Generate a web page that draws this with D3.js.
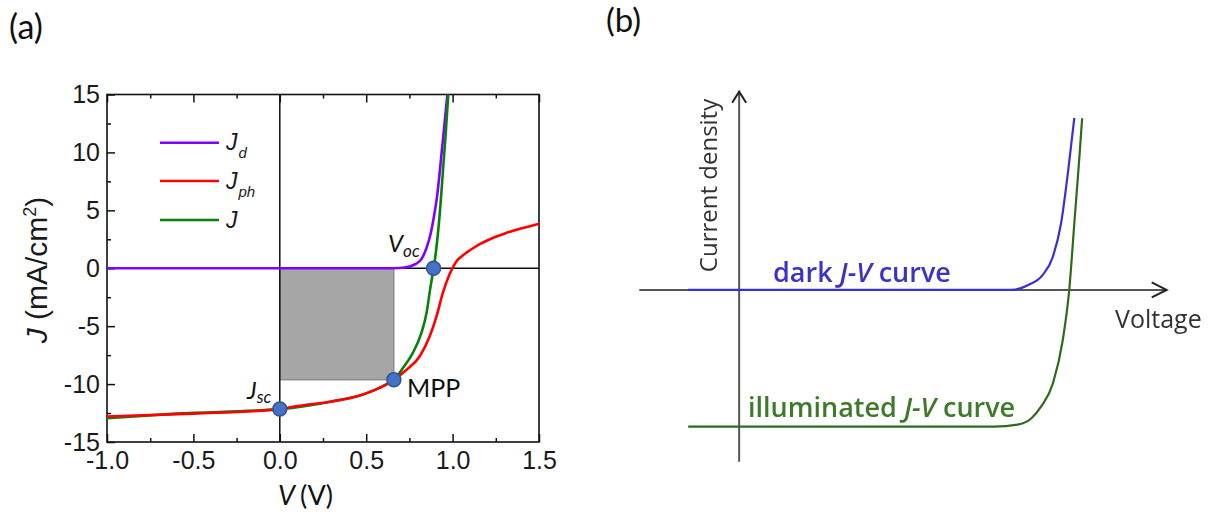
<!DOCTYPE html>
<html>
<head>
<meta charset="utf-8">
<script src="https://cdn.jsdelivr.net/npm/d3@7"></script>
<style>
  body { margin: 0; background: #fff; }
  svg { display: block; }
</style>
</head>
<body>
<svg id="fig" width="1210" height="518"></svg>
<script>
// ---------- Panel (a): measured J–V characteristics ----------
// Dark current J_d
const darkV = [-1.0, 0.60, 0.69, 0.75, 0.79, 0.82, 0.85, 0.87, 0.89, 0.91, 0.94, 0.97];
const darkJ = [0, 0, 0.02, 0.15, 0.40, 0.80, 1.80, 2.80, 4.30, 6.20, 10.5, 15.0];
// Photocurrent J_ph
const photoV = [-1.0, -0.5, 0.0, 0.1, 0.3, 0.45, 0.55, 0.60, 0.66, 0.73, 0.81, 0.867, 0.906, 0.944, 0.983, 1.02, 1.05, 1.08, 1.12, 1.16, 1.20, 1.25, 1.31, 1.40, 1.50];
const photoJ = [-12.8, -12.55, -12.16, -11.9, -11.5, -11.05, -10.5, -10.15, -9.63, -8.8, -7.6, -5.9, -4.2, -2.1, -0.5, 0.55, 1.0, 1.35, 1.75, 2.1, 2.4, 2.72, 3.05, 3.45, 3.85];
// Total current J
const totalV = [-1.0, -0.6, 0.0, 0.3, 0.5, 0.60, 0.66, 0.713, 0.77, 0.819, 0.85, 0.87, 0.89, 0.90, 0.915, 0.93, 0.945, 0.96, 0.975];
const totalJ = [-12.95, -12.55, -12.16, -11.5, -10.8, -10.15, -9.63, -8.6, -7.3, -5.6, -3.8, -1.8, 0, 1.0, 3.0, 5.5, 8.6, 11.6, 15.0];

// Characteristic points
const pointNames = ["Jsc", "MPP", "Voc"];
const pointV = [0.0, 0.66, 0.89];
const pointJ = [-12.16, -9.63, 0];

// Axis ticks
const xMajor = [-1.0, -0.5, 0.0, 0.5, 1.0, 1.5];
const xMinor = [-0.75, -0.25, 0.25, 0.75, 1.25];
const yMajor = [-15, -10, -5, 0, 5, 10, 15];
const yMinor = [-12.5, -7.5, -2.5, 2.5, 7.5, 12.5];
const xTickLabels = ["-1.0", "-0.5", "0.0", "0.5", "1.0", "1.5"];
const yTickLabels = ["-15", "-10", "-5", "0", "5", "10", "15"];

// Legend entries
const legendMain = ["J", "J", "J"];
const legendSub = ["d", "ph", ""];
const legendColors = ["#8000ff", "#ff0000", "#0a800a"];

// ---------- Panel (b): schematic curves ----------
const schemDarkV = [-0.15, 0.80, 0.85, 0.894, 0.924, 0.948, 0.968, 0.987];
const schemDarkJ = [0, 0, 0.035, 0.11, 0.244, 0.488, 0.854, 1.258];
const schemLightV = [-0.15, 0.75, 0.82, 0.86, 0.89, 0.924, 0.953, 0.972, 0.987, 1.002, 1.010];
const schemLightJ = [-1, -1, -0.985, -0.94, -0.85, -0.683, -0.366, 0, 0.488, 0.975, 1.256];

const svg = d3.select("#fig");

// ================= Panel (a) =================
const x = d3.scaleLinear().domain([-1, 1.5]).range([107, 539]);
const y = d3.scaleLinear().domain([-15, 15]).range([442, 94.5]);
const A = svg.append("g");

const tickFont = "'Liberation Sans', Arial, sans-serif";
const lato = "Lato, 'Open Sans', sans-serif";

// maximum power rectangle
A.append("rect")
  .attr("x", x(0)).attr("y", y(0))
  .attr("width", x(pointV[1]) - x(0))
  .attr("height", y(pointJ[1]) - y(0))
  .attr("fill", "#a6a6a6").attr("stroke", "#7f7f7f").attr("stroke-width", 1.2);

// zero lines
A.append("line").attr("x1", x(-1)).attr("x2", x(1.5)).attr("y1", y(0)).attr("y2", y(0))
  .attr("stroke", "#111").attr("stroke-width", 1.5);
A.append("line").attr("x1", x(0)).attr("x2", x(0)).attr("y1", y(-15)).attr("y2", y(15))
  .attr("stroke", "#111").attr("stroke-width", 1.5);

// axes with inward ticks
function styleAxis(g) {
  g.select(".domain").remove();
  g.selectAll(".tick line").attr("stroke", "#111").attr("stroke-width", 1.5);
  g.selectAll(".tick text").attr("font-family", tickFont).attr("font-size", 25).attr("fill", "#1a1a1a");
}
A.append("g").attr("transform", `translate(0,${y(-15)})`)
  .call(d3.axisBottom(x).tickValues(xMajor).tickSize(-8).tickPadding(9)
    .tickFormat((d, i) => xTickLabels[i]))
  .call(styleAxis);
A.append("g").attr("transform", `translate(0,${y(-15)})`)
  .call(d3.axisBottom(x).tickValues(xMinor).tickSize(-4).tickFormat(""))
  .call(styleAxis);
A.append("g").attr("transform", `translate(0,${y(15)})`)
  .call(d3.axisTop(x).tickValues(xMajor).tickSize(-8).tickFormat(""))
  .call(styleAxis);
A.append("g").attr("transform", `translate(0,${y(15)})`)
  .call(d3.axisTop(x).tickValues(xMinor).tickSize(-4).tickFormat(""))
  .call(styleAxis);
A.append("g").attr("transform", `translate(${x(-1)},0)`)
  .call(d3.axisLeft(y).tickValues(yMajor).tickSize(-8).tickPadding(7)
    .tickFormat((d, i) => yTickLabels[i]))
  .call(styleAxis);
A.append("g").attr("transform", `translate(${x(-1)},0)`)
  .call(d3.axisLeft(y).tickValues(yMinor).tickSize(-4).tickFormat(""))
  .call(styleAxis);

// frame
A.append("rect").attr("x", x(-1)).attr("y", y(15))
  .attr("width", x(1.5) - x(-1)).attr("height", y(-15) - y(15))
  .attr("fill", "none").attr("stroke", "#111").attr("stroke-width", 1.6);

// curves
const line = d3.line().x(d => x(d[0])).y(d => y(d[1])).curve(d3.curveMonotoneX);
const zip = (a, b) => a.map((v, i) => [v, b[i]]);
A.append("path").datum(zip(darkV, darkJ)).attr("d", line)
  .attr("fill", "none").attr("stroke", legendColors[0]).attr("stroke-width", 2.6);
A.append("path").datum(zip(totalV, totalJ)).attr("d", line)
  .attr("fill", "none").attr("stroke", legendColors[2]).attr("stroke-width", 2.6);
A.append("path").datum(zip(photoV, photoJ)).attr("d", line)
  .attr("fill", "none").attr("stroke", legendColors[1]).attr("stroke-width", 2.6);

// characteristic points
A.selectAll("circle.pt").data(pointV).join("circle")
  .attr("class", "pt")
  .attr("cx", d => x(d)).attr("cy", (d, i) => y(pointJ[i]))
  .attr("r", 7).attr("fill", "#4472c4").attr("stroke", "#2f5597").attr("stroke-width", 1.5);

// point labels
const voc = A.append("text").attr("x", 388).attr("y", 252)
  .attr("font-family", lato).attr("font-size", 24).attr("fill", "#111");
voc.append("tspan").attr("font-style", "italic").text("V");
voc.append("tspan").attr("font-style", "italic").attr("font-size", 17).attr("dy", 5).text("oc");
const jsc = A.append("text").attr("x", 247).attr("y", 399)
  .attr("font-family", lato).attr("font-size", 24).attr("fill", "#111");
jsc.append("tspan").attr("font-style", "italic").text("J");
jsc.append("tspan").attr("font-style", "italic").attr("font-size", 17).attr("dy", 4).text("sc");
A.append("text").attr("x", 407).attr("y", 397)
  .attr("font-family", lato).attr("font-size", 25).attr("fill", "#111").text("MPP");

// legend
const legendY = [142.7, 181, 220];
legendMain.forEach((m, i) => {
  A.append("line").attr("x1", 160).attr("x2", 219).attr("y1", legendY[i]).attr("y2", legendY[i])
    .attr("stroke", legendColors[i]).attr("stroke-width", 2.6);
  const t = A.append("text").attr("x", 226).attr("y", legendY[i] + 7.5)
    .attr("font-family", tickFont).attr("font-size", 23).attr("font-style", "italic").attr("fill", "#1a1a1a");
  t.append("tspan").text(m);
  if (legendSub[i]) t.append("tspan").attr("font-size", 15).attr("dy", 8).attr("dx", 1).text(legendSub[i]);
});

// axis titles
const xt = A.append("text").attr("x", 278).attr("y", 505)
  .attr("font-family", lato).attr("font-size", 27).attr("fill", "#111");
xt.append("tspan").attr("font-style", "italic").text("V");
xt.append("tspan").attr("dx", 5).text("(V)");

const yt = A.append("text").attr("transform", "translate(47,270) rotate(-90)")
  .attr("text-anchor", "middle")
  .attr("font-family", tickFont).attr("font-size", 30).attr("fill", "#1a1a1a");
yt.append("tspan").attr("font-style", "italic").text("J");
yt.append("tspan").text(" (mA/cm");
yt.append("tspan").attr("font-size", 18).attr("dy", -11).text("2");
yt.append("tspan").attr("dy", 11).text(")");

// panel label
svg.append("text").attr("x", 9).attr("y", 39)
  .attr("font-family", lato).attr("font-size", 34).attr("fill", "#111").text("(a)");

// ================= Panel (b) =================
const xb = d3.scaleLinear().domain([-0.294, 1.259]).range([639.3, 1166.7]);
const yb = d3.scaleLinear().domain([-1.256, 1.45]).range([461.7, 91.7]);

svg.append("defs").append("filter").attr("id", "soft")
  .append("feGaussianBlur").attr("stdDeviation", 0.55);
const B = svg.append("g").attr("filter", "url(#soft)");
const axisGray = "#555";

// coordinate axes with open arrowheads
B.append("line").attr("x1", xb(-0.294)).attr("x2", xb(1.259)).attr("y1", yb(0)).attr("y2", yb(0))
  .attr("stroke", axisGray).attr("stroke-width", 2);
B.append("line").attr("x1", xb(0)).attr("x2", xb(0)).attr("y1", yb(-1.256)).attr("y2", yb(1.45))
  .attr("stroke", axisGray).attr("stroke-width", 2);
B.append("path")
  .attr("d", `M${xb(1.259) - 15},${yb(0) - 7.5} L${xb(1.259)},${yb(0)} L${xb(1.259) - 15},${yb(0) + 7.5}`)
  .attr("fill", "none").attr("stroke", "#222").attr("stroke-width", 2);
B.append("path")
  .attr("d", `M${xb(0) - 7},${yb(1.45) + 11} L${xb(0)},${yb(1.45)} L${xb(0) + 7},${yb(1.45) + 11}`)
  .attr("fill", "none").attr("stroke", "#222").attr("stroke-width", 2);

const lineB = d3.line().x(d => xb(d[0])).y(d => yb(d[1])).curve(d3.curveMonotoneX);
B.append("path").datum(zip(schemDarkV, schemDarkJ)).attr("d", lineB)
  .attr("fill", "none").attr("stroke", "#3a2fd4").attr("stroke-width", 2.2);
B.append("path").datum(zip(schemLightV, schemLightJ)).attr("d", lineB)
  .attr("fill", "none").attr("stroke", "#2f6b1f").attr("stroke-width", 2.2);

const sans = "'Open Sans', sans-serif";
B.append("text").attr("transform", "translate(717,185.5) rotate(-90)")
  .attr("text-anchor", "middle").attr("font-family", sans).attr("font-size", 24)
  .attr("fill", "#333").text("Current density");
B.append("text").attr("x", 1115).attr("y", 328)
  .attr("font-family", sans).attr("font-size", 25).attr("fill", "#333").text("Voltage");

const dk = B.append("text").attr("x", 773).attr("y", 282)
  .attr("font-family", sans).attr("font-size", 27).attr("font-weight", 600).attr("fill", "#3b33c6");
dk.append("tspan").text("dark ");
dk.append("tspan").attr("font-style", "italic").text("J-V");
dk.append("tspan").text(" curve");

const il = B.append("text").attr("x", 748).attr("y", 417)
  .attr("font-family", sans).attr("font-size", 27).attr("font-weight", 600).attr("fill", "#3d7a2a");
il.append("tspan").text("illuminated ");
il.append("tspan").attr("font-style", "italic").text("J-V");
il.append("tspan").text(" curve");

svg.append("text").attr("x", 606).attr("y", 32)
  .attr("font-family", lato).attr("font-size", 33).attr("fill", "#111").text("(b)");
</script>
</body>
</html>
